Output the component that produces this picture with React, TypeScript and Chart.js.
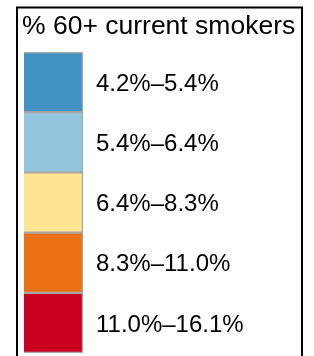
import React, { useEffect, useRef } from 'react';
import { Chart, registerables } from 'chart.js';

Chart.register(...registerables);

const legendTitle = '% 60+ current smokers';
const categories = ['4.2%–5.4%', '5.4%–6.4%', '6.4%–8.3%', '8.3%–11.0%', '11.0%–16.1%'];
const swatchValues = [1, 1, 1, 1, 1];
const swatchColors = ['#4292c6', '#92c5de', '#fee391', '#ec7014', '#ca0020'];

const FONT = "'Liberation Sans', Arial, Helvetica, sans-serif";

export default function App() {
  const ref = useRef<HTMLCanvasElement>(null);

  useEffect(() => {
    document.body.style.margin = '0';
    const framePlugin = {
      id: 'frame',
      afterDraw(chart: any) {
        const ctx = chart.ctx;
        ctx.save();
        ctx.strokeStyle = '#000';
        ctx.lineWidth = 2;
        ctx.strokeRect(17, 7.5, 285, 400);
        ctx.restore();
      },
    };
    const chart = new Chart(ref.current as HTMLCanvasElement, {
      type: 'bar',
      data: {
        labels: categories,
        datasets: [
          {
            data: swatchValues,
            backgroundColor: swatchColors,
            borderColor: '#a6a6a6',
            borderWidth: 1.5,
            barPercentage: 1,
            categoryPercentage: 1,
            yAxisID: 'y',
          },
        ],
      },
      options: {
        indexAxis: 'y',
        responsive: false,
        animation: false,
        devicePixelRatio: 1,
        layout: { padding: { left: 22, top: 0, right: 0, bottom: 3 } },
        plugins: {
          legend: { display: false },
          tooltip: { enabled: false },
          title: {
            display: true,
            text: legendTitle,
            align: 'start',
            color: '#000',
            font: { family: FONT, size: 26.5, weight: 'normal', lineHeight: 1.2 },
            padding: { top: 10.9, bottom: 9.3 },
          },
        },
        scales: {
          x: { display: false, min: 0, max: 1 },
          y: {
            type: 'category',
            position: 'right',
            grid: { display: false, drawTicks: false },
            border: { display: false },
            ticks: {
              padding: 13,
              labelOffset: 2,
              color: '#000',
              font: { family: FONT, size: 24 },
            },
            afterFit: (s: any) => {
              s.width = 231;
              s.paddingTop = 0;
              s.paddingBottom = 0;
            },
          },
          yLeft: {
            type: 'linear',
            position: 'left',
            display: true,
            grid: { display: false, drawTicks: false },
            border: { display: false },
            ticks: { display: false },
            afterFit: (s: any) => {
              s.width = 2;
              s.paddingTop = 0;
              s.paddingBottom = 0;
            },
          },
        },
      },
      plugins: [framePlugin],
    } as any);
    return () => chart.destroy();
  }, []);

  return <canvas ref={ref} width={314} height={356} style={{ display: 'block' }} />;
}
